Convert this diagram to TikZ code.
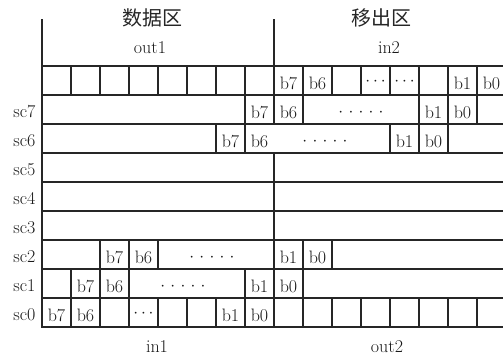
\documentclass[tikz,border=0pt]{standalone}
\usepackage{fontspec}
\newfontfamily\cjkfont{Noto Sans CJK SC}
\newcommand\fivedots{$\cdot\mkern1.5mu\cdot\mkern1.5mu\cdot\mkern1.5mu\cdot\mkern1.5mu\cdot$}
\newcommand\threedots{$\cdots$}
\begin{document}
\begin{tikzpicture}[x=1pt,y=-1pt,
  gridline/.style={line width=1.3pt, draw=black!85, line cap=rect},
  lbl/.style={font=\fontsize{18}{22}\selectfont, inner sep=0pt, anchor=base, text=black!90},
  rowlbl/.style={font=\fontsize{18}{22}\selectfont, inner sep=0pt, anchor=base east, text=black!90},
  zonelbl/.style={font=\cjkfont\fontsize{20}{24}\selectfont, inner sep=0pt, text=black!85}]
\useasboundingbox (0,0) rectangle (503,355);
\fill[white] (0,0) rectangle (503,355);

% headings
\node[zonelbl] (zone1) at (152.5,17.5) {数据区};
\node[zonelbl] (zone2) at (381.5,17.5) {移出区};
\node[lbl] (out1) at (150,53.5) {out1};
\node[lbl] (in2) at (389,53.5) {in2};
\node[lbl] (in1) at (157,352) {in1};
\node[lbl] (out2) at (387,352) {out2};

\begin{scope}[shift={(42pt,-66pt)}, x=29pt, y=-29pt]
  % horizontal row lines
  \foreach \j in {0,...,9} \draw[gridline] (0,\j) -- (15.9,\j);
  % left border and main divider
  \draw[gridline] (0,-1.586) -- (0,9);
  \draw[gridline] (8,-1.586) -- (8,2);
  \draw[gridline] (8,3) -- (8,9);
  % top row
  \foreach \i in {1,...,15} \draw[gridline] (\i,0) -- (\i,1);
  % sc7
  \foreach \i in {7,9,13,14,15} \draw[gridline] (\i,1) -- (\i,2);
  % sc6
  \foreach \i in {6,7,12,13,14} \draw[gridline] (\i,2) -- (\i,3);
  % sc2
  \foreach \i in {2,3,4,9,10} \draw[gridline] (\i,6) -- (\i,7);
  % sc1
  \foreach \i in {1,2,3,7,9} \draw[gridline] (\i,7) -- (\i,8);
  % sc0
  \foreach \i in {1,...,7,9,10,...,15} \draw[gridline] (\i,8) -- (\i,9);

  % row labels
  \node[rowlbl] (sc7) at (-0.22,1.776) {sc7};
  \node[rowlbl] (sc6) at (-0.22,2.776) {sc6};
  \node[rowlbl] (sc5) at (-0.22,3.776) {sc5};
  \node[rowlbl] (sc4) at (-0.22,4.776) {sc4};
  \node[rowlbl] (sc3) at (-0.22,5.776) {sc3};
  \node[rowlbl] (sc2) at (-0.22,6.776) {sc2};
  \node[rowlbl] (sc1) at (-0.22,7.776) {sc1};
  \node[rowlbl] (sc0) at (-0.22,8.776) {sc0};

  % top row bits
  \node[lbl] (t7) at (8.5,0.81) {b7};
  \node[lbl] (t6) at (9.5,0.81) {b6};
  \node[lbl] (td1) at (11.5,0.66) {\threedots};
  \node[lbl] (td2) at (12.5,0.66) {\threedots};
  \node[lbl] (t1) at (14.5,0.81) {b1};
  \node[lbl] (t0) at (15.5,0.81) {b0};

  % sc7 row
  \node[lbl] (a7) at (7.5,1.81) {b7};
  \node[lbl] (a6) at (8.5,1.81) {b6};
  \node[lbl] (ad) at (11.0,1.75) {\fivedots};
  \node[lbl] (a1) at (13.5,1.81) {b1};
  \node[lbl] (a0) at (14.5,1.81) {b0};

  % sc6 row
  \node[lbl] (c7) at (6.5,2.81) {b7};
  \node[lbl] (c6) at (7.5,2.81) {b6};
  \node[lbl] (cd) at (9.76,2.75) {\fivedots};
  \node[lbl] (c1) at (12.5,2.81) {b1};
  \node[lbl] (c0) at (13.5,2.81) {b0};

  % sc2 row
  \node[lbl] (e7) at (2.5,6.81) {b7};
  \node[lbl] (e6) at (3.5,6.81) {b6};
  \node[lbl] (ed) at (5.86,6.75) {\fivedots};
  \node[lbl] (e1) at (8.5,6.81) {b1};
  \node[lbl] (e0) at (9.5,6.81) {b0};

  % sc1 row
  \node[lbl] (f7) at (1.5,7.81) {b7};
  \node[lbl] (f6) at (2.5,7.81) {b6};
  \node[lbl] (fd) at (4.86,7.75) {\fivedots};
  \node[lbl] (f1) at (7.5,7.81) {b1};
  \node[lbl] (f0) at (8.5,7.81) {b0};

  % sc0 row
  \node[lbl] (g7) at (0.5,8.81) {b7};
  \node[lbl] (g6) at (1.5,8.81) {b6};
  \node[lbl] (gd) at (3.5,8.66) {\threedots};
  \node[lbl] (g1) at (6.5,8.81) {b1};
  \node[lbl] (g0) at (7.5,8.81) {b0};
\end{scope}
\end{tikzpicture}
\end{document}
